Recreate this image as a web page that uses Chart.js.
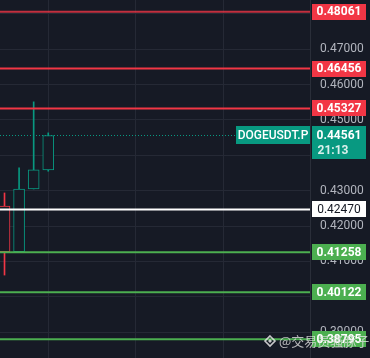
<!DOCTYPE html>
<html><head><meta charset="utf-8">
<style>
html,body{margin:0;padding:0;background:#161a25;overflow:hidden;}
#wrap{width:370px;height:358px;position:relative;}
</style>
<script src="https://cdn.jsdelivr.net/npm/chart.js@4/dist/chart.umd.min.js"></script>
</head><body>
<div id="wrap"><canvas id="c" width="370" height="358"></canvas></div>
<script>
// ---- data ----
const candleIndex = [0, 1, 2, 3];
const opens  = [0.42567, 0.41272, 0.43048, 0.43586];
const highs  = [0.42935, 0.43643, 0.45513, 0.44635];
const lows   = [0.40612, 0.41272, 0.43048, 0.43550];
const closes = [0.41272, 0.43048, 0.43586, 0.44561];
const levelValues = [0.48061, 0.46456, 0.45327, 0.42470, 0.41258, 0.40122, 0.38795];
const levelKinds  = ['resistance', 'resistance', 'resistance', 'pivot', 'support', 'support', 'support'];
const yTickValues = [0.39, 0.40, 0.41, 0.42, 0.43, 0.44, 0.45, 0.46, 0.47, 0.48];
const xGridValues = [3, 9, 15, 21];
const symbolName = 'DOGEUSDT.P';
const lastPrice = 0.44561;
const countdown = '21:13';
const watermark = '@交易员骚豚子';

// ---- style ----
const BG = '#161a25', GRID = '#252935', UP = '#089981', DOWN = '#f23645';
const FONT = 'Roboto, "Liberation Sans", Arial, sans-serif';
const kindStyle = {
  resistance: {line: '#f23645', box: '#f23645', text: '#ffffff', bold: true},
  pivot:      {line: '#ffffff', box: '#ffffff', text: '#131722', bold: false},
  support:    {line: '#4caf50', box: '#4caf50', text: '#ffffff', bold: true}
};

const colorOf = i => closes[i] >= opens[i] ? UP : DOWN;
const wickData = candleIndex.map(i => ({x: i, y: [lows[i], highs[i]]}));
const bodyData = candleIndex.map(i => ({x: i, y: [Math.min(opens[i], closes[i]), Math.max(opens[i], closes[i])]}));
const colors = candleIndex.map(colorOf);

const overlay = {
  id: 'overlay',
  afterDatasetsDraw(chart) {
    const ctx = chart.ctx, y = chart.scales.y, a = chart.chartArea;
    ctx.save();
    const py = Math.round(y.getPixelForValue(lastPrice)) + 0.5;
    ctx.strokeStyle = UP; ctx.lineWidth = 1; ctx.setLineDash([1, 2]);
    ctx.beginPath(); ctx.moveTo(a.left, py); ctx.lineTo(a.right, py); ctx.stroke();
    ctx.setLineDash([]);
    levelValues.forEach((v, k) => {
      const st = kindStyle[levelKinds[k]];
      const ly = y.getPixelForValue(v);
      ctx.strokeStyle = st.line; ctx.lineWidth = 2;
      ctx.globalAlpha = k === 0 ? 0.78 : 1;
      ctx.beginPath(); ctx.moveTo(a.left, ly); ctx.lineTo(a.right, ly); ctx.stroke();
      ctx.globalAlpha = 1;
    });
    ctx.restore();
  },
  afterDraw(chart) {
    const ctx = chart.ctx, y = chart.scales.y, a = chart.chartArea;
    ctx.save();
    const bx = a.right + 2, bw = 54;
    levelValues.forEach((v, k) => {
      const st = kindStyle[levelKinds[k]];
      const ly = y.getPixelForValue(v);
      ctx.fillStyle = st.box;
      ctx.fillRect(bx, Math.round(ly - 8), bw, 16);
      ctx.fillStyle = st.text;
      ctx.font = (st.bold ? 'bold ' : '') + '12px ' + FONT;
      ctx.textBaseline = 'middle'; ctx.textAlign = 'center';
      ctx.fillText(v.toFixed(5), bx + bw / 2, ly + 0.5);
    });
    const py = y.getPixelForValue(lastPrice);
    ctx.fillStyle = UP;
    ctx.fillRect(bx, Math.round(py - 9), bw, 33);
    ctx.fillStyle = '#ffffff'; ctx.textAlign = 'center'; ctx.textBaseline = 'middle';
    ctx.font = 'bold 12px ' + FONT;
    ctx.fillText(lastPrice.toFixed(5), bx + bw / 2, py + 0.5);
    ctx.fillStyle = 'rgba(255,255,255,0.85)';
    ctx.fillText(countdown, bx + bw / 2 - 6, py + 16);
    ctx.font = '500 12px ' + FONT;
    const sw = 74;
    ctx.fillStyle = UP;
    ctx.fillRect(a.right - sw, Math.round(py - 9), sw, 18);
    ctx.fillStyle = '#ffffff'; ctx.textAlign = 'center';
    ctx.fillText(symbolName, a.right - sw / 2, py + 0.5);
    // watermark
    const wy = 341;
    ctx.strokeStyle = 'rgba(230,230,230,0.85)'; ctx.lineWidth = 1.6;
    const cx = 270, r = 5;
    ctx.beginPath(); ctx.moveTo(cx, wy - r); ctx.lineTo(cx + r, wy); ctx.lineTo(cx, wy + r); ctx.lineTo(cx - r, wy); ctx.closePath(); ctx.stroke();
    ctx.fillStyle = 'rgba(230,230,230,0.85)';
    ctx.beginPath(); ctx.moveTo(cx, wy - 2); ctx.lineTo(cx + 2, wy); ctx.lineTo(cx, wy + 2); ctx.lineTo(cx - 2, wy); ctx.closePath(); ctx.fill();
    ctx.font = '13px "Noto Sans CJK SC", sans-serif';
    ctx.textAlign = 'left'; ctx.textBaseline = 'middle';
    ctx.fillStyle = 'rgba(225,225,225,0.8)';
    ctx.fillText(watermark, 279, wy + 0.5);
    ctx.restore();
  }
};

new Chart(document.getElementById('c'), {
  type: 'bar',
  data: {
    datasets: [
      {data: bodyData, backgroundColor: BG, borderColor: colors, borderWidth: 1,
       borderSkipped: false, barThickness: 11, grouped: false, order: 0},
      {data: wickData, backgroundColor: colors, borderWidth: 0,
       barThickness: 1, grouped: false, order: 1}
    ]
  },
  options: {
    responsive: false, animation: false,
    layout: {padding: 0},
    plugins: {legend: {display: false}, tooltip: {enabled: false}},
    scales: {
      x: {
        type: 'linear', min: -0.309, max: 20.95, offset: false, bounds: 'ticks',
        afterBuildTicks: s => { s.ticks = xGridValues.map(v => ({value: v})); },
        afterFit: s => { s.height = 0; s.paddingLeft = 0; s.paddingRight = 0; },
        ticks: {display: false},
        grid: {color: GRID, drawTicks: false, lineWidth: 1, offset: false},
        border: {display: false}
      },
      y: {
        position: 'right', min: 0.38265, max: 0.48395,
        afterBuildTicks: s => { s.ticks = yTickValues.map(v => ({value: v})); },
        afterFit: s => { s.width = 60; s.paddingTop = 0; s.paddingBottom = 0; },
        ticks: {color: '#b2b5be', font: {family: FONT, size: 12}, padding: 10,
                callback: v => Number(v).toFixed(5)},
        grid: {color: GRID, drawTicks: false, tickLength: 0},
        border: {display: true, color: '#2a2e39'}
      }
    }
  },
  plugins: [overlay]
});
</script>
</body></html>
